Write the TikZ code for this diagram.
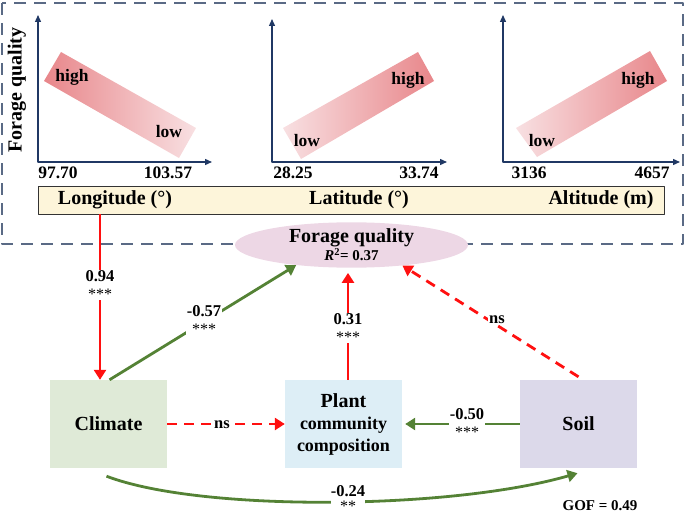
\documentclass[tikz,border=0pt]{standalone}
\usepackage{fontspec}
\setmainfont{Liberation Serif}
\usetikzlibrary{arrows.meta,shapes.geometric}
\definecolor{axisblue}{HTML}{203864}
\definecolor{framegray}{HTML}{5A6A85}
\definecolor{barfill}{HTML}{FDF5DA}
\definecolor{bandhi}{HTML}{E8868A}
\definecolor{bandlo}{HTML}{F8E0E2}
\definecolor{ellfill}{HTML}{EDD7E5}
\definecolor{climfill}{HTML}{DFEAD7}
\definecolor{plantfill}{HTML}{DDEEF6}
\definecolor{soilfill}{HTML}{DCD9EA}
\definecolor{arrred}{HTML}{FF1010}
\definecolor{arrgreen}{HTML}{548235}
\newcommand{\stars}[1]{{\fontsize{16}{14}\selectfont\mdseries #1}}
\begin{document}
\begin{tikzpicture}[x=1pt, y=-1pt, line join=round,
	big/.style={font=\fontsize{20}{22}\selectfont\bfseries},
	tick/.style={font=\fontsize{17.5}{19}\selectfont\bfseries},
	coef/.style={fill=white, inner sep=1pt, align=center, font=\fontsize{16.5}{15}\selectfont\bfseries},
	box/.style={minimum width=117pt, minimum height=88pt, inner sep=0pt, align=center},
	axis/.style={axisblue, line width=1.3pt, {Triangle[length=7pt,width=6pt]}-{Triangle[length=7pt,width=6pt]}},
	posarr/.style={arrred, line width=2.8pt, -{Triangle[length=10pt,width=12pt]}},
	negarr/.style={arrgreen, line width=2.8pt, -{Triangle[length=10pt,width=12pt]}},
	nsarr/.style={posarr, dash pattern=on 10pt off 7pt}]
	\useasboundingbox (0,0) rectangle (685,516);
	\draw[framegray, line width=1.2pt, dash pattern=on 12pt off 8pt] (2,3) rectangle (683,244);
	% trend panels
	\foreach \ox/\xe/\yt in {38/212/15, 272/447/19, 503/680/15}
	\draw[axis] (\ox,\yt) |- (\xe,162);
	\shade[left color=bandhi, right color=bandlo] (61,52) -- (44,81) -- (179,158) -- (196,128) -- cycle;
	\shade[left color=bandlo, right color=bandhi] (283,128) -- (301,159) -- (434,81) -- (418,52) -- cycle;
	\shade[left color=bandlo, right color=bandhi] (516,128) -- (537,157) -- (667,81) -- (650,51) -- cycle;
	\node[big, rotate=90] (fqaxis) at (17,90) {Forage quality};
	\foreach \n/\x/\y/\t in {h1/72/77/high, l1/169/132/low, h2/408/80/high, l2/307/141/low, h3/638/80/high, l3/542/141/low}
	\node[tick] (\n) at (\x,\y) {\t};
	\foreach \n/\x/\t in {a1/58/97.70, b1/168/103.57, a2/293/28.25, b2/419/33.74, a3/529/3136, b3/652/4657}
	\node[tick] (\n) at (\x,173) {\t};
	\node[draw=black!80, line width=0.8pt, fill=barfill, minimum width=626pt, minimum height=28pt, inner sep=0pt] (bar) at (351,200) {};
	\node[big] (lonl) at (115,200) {Longitude (°)};
	\node[big] (latl) at (359,200) {Latitude (°)};
	\node[big] (altl) at (601,200) {Altitude (m)};
	\coordinate (lon) at (100,214);
	% path model
	\node[ellipse, fill=ellfill, minimum width=233pt, minimum height=44pt, inner sep=0pt, align=center,
	font=\fontsize{20}{18}\selectfont\bfseries] (fq) at (351.5,245)
	{Forage quality\\{\fontsize{15}{15}\selectfont\textit{R}\textsuperscript{2}= 0.37}};
	\node[box, big, fill=climfill] (cl) at (108.5,424) {Climate};
	\node[box, fill=plantfill, font=\fontsize{18}{22}\selectfont\bfseries] (pl) at (343.5,424)
	{{\fontsize{20}{22}\selectfont Plant}\\community\\composition};
	\node[box, big, fill=soilfill] (so) at (578.5,424) {Soil};
	\draw[posarr] (lon) -- (cl.north -| lon);
	\draw[negarr] ([xshift=1pt]cl.north) -- (fq.200);
	\draw[posarr] ([xshift=4.5pt]pl.north) -- ([xshift=4.5pt, yshift=-5pt]pl.north |- fq.south);
	\draw[nsarr] ([shift={(0,-3)}]so.north) -- (fq.338);
	\draw[nsarr] (cl.east) -- (pl.west);
	\draw[negarr, shorten >=3pt] (so.west) -- (pl.east);
	\draw[negarr] ([shift={(-2,8)}]cl.south) .. controls (200,512) and (450,510) .. ([shift={(-1,5)}]so.south);
	\node[coef] (c94) at (100,285) {0.94\\[3pt]\stars{***}};
	\node[coef] (c57) at (204,320) {-0.57\\[3pt]\stars{***}};
	\node[coef] (c31) at (348,328) {0.31\\[3pt]\stars{***}};
	\node[coef] (ns1) at (497,320) {ns};
	\node[coef] (ns2) at (222,425) {ns};
	\node[coef] (c50) at (467,423) {-0.50\\[3pt]\stars{***}};
	\node[coef, inner sep=0pt] (c24) at (348,499) {-0.24\\[0pt]\stars{**}};
	\node[font=\fontsize{15}{15}\selectfont\bfseries] (gof) at (600,506) {GOF = 0.49};
\end{tikzpicture}
\end{document}
